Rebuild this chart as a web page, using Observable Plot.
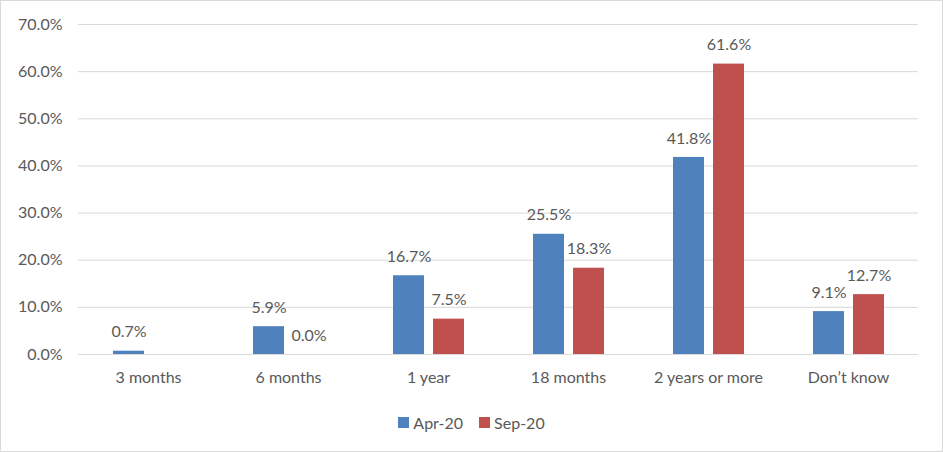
<!DOCTYPE html>
<html>
<head>
<meta charset="utf-8">
<script src="https://cdn.jsdelivr.net/npm/d3@7"></script>
<script src="https://cdn.jsdelivr.net/npm/@observablehq/plot@0.6"></script>
<style>
  html, body { margin: 0; padding: 0; background: #fff; }
  #chart { width: 943px; height: 452px; box-sizing: border-box; border: 1px solid #d9d9d9; position: relative; overflow: hidden; font-family: Lato, "Open Sans", sans-serif; }
  #legend { position: absolute; left: 0; right: 0; top: 412px; display: flex; justify-content: center; align-items: center; font-size: 16px; color: #595959; }
  .item { display: flex; align-items: center; margin: 0 8px; }
  .sw { width: 11px; height: 11px; margin-right: 4px; }
</style>
</head>
<body>
<div id="chart"><div id="legend"></div></div>
<script>
const categories = ["3 months", "6 months", "1 year", "18 months", "2 years or more", "Don\u2019t know"];
const seriesNames = ["Apr-20", "Sep-20"];
const apr20 = [0.7, 5.9, 16.7, 25.5, 41.8, 9.1];
const sep20 = [null, 0.0, 7.5, 18.3, 61.6, 12.7];
const yTicks = [0, 10, 20, 30, 40, 50, 60, 70];
const colors = ["#4F81BD", "#C0504D"];

const data = [];
categories.forEach((c, i) => {
  if (apr20[i] != null) data.push({category: c, series: seriesNames[0], value: apr20[i]});
  if (sep20[i] != null) data.push({category: c, series: seriesNames[1], value: sep20[i]});
});

const fmt = d => d.toFixed(1) + "%";

const chart = Plot.plot({
  width: 941,
  height: 400,
  marginLeft: 77,
  marginRight: 24,
  marginTop: 23,
  marginBottom: 47,
  style: {fontFamily: "Lato, 'Open Sans', sans-serif", fontSize: "16px", color: "#595959", background: "#fff"},
  fx: {domain: categories, padding: 0, label: null},
  x: {domain: seriesNames, paddingInner: 0.225, paddingOuter: 0.8625, axis: null},
  y: {domain: [0, 70], ticks: yTicks, label: null},
  color: {domain: seriesNames, range: colors},
  marks: [
    Plot.gridY(yTicks, {stroke: "#d9d9d9", strokeOpacity: 1, strokeWidth: 1}),
    Plot.axisY(yTicks, {tickSize: 0, tickPadding: 16, tickFormat: fmt, label: null, fill: "#595959", fontSize: 16}),
    Plot.axisFx({anchor: "bottom", tickSize: 0, tickPadding: 17, label: null, fill: "#595959", fontSize: 16}),
    Plot.barY(data, {fx: "category", x: "series", y: "value", fill: "series"}),
    Plot.text(data, {fx: "category", x: "series", y: "value", text: d => fmt(d.value), dy: -19, fill: "#595959", fontSize: 16})
  ]
});
document.getElementById("chart").insertBefore(chart, document.getElementById("legend"));

const legend = document.getElementById("legend");
seriesNames.forEach((s, i) => {
  const it = document.createElement("div");
  it.className = "item";
  it.innerHTML = `<div class="sw" style="background:${colors[i]}"></div><span>${s}</span>`;
  legend.appendChild(it);
});
</script>
</body>
</html>
